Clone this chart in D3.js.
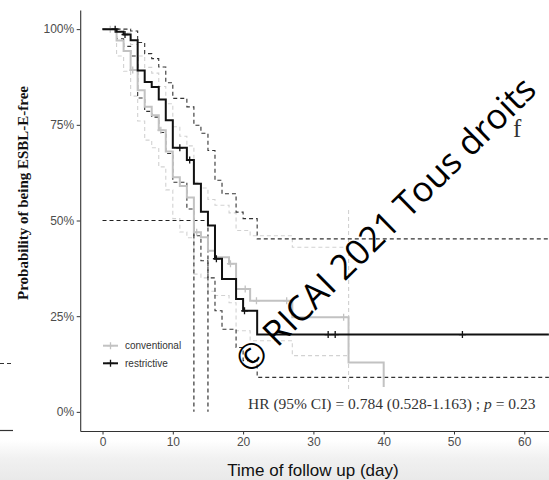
<!DOCTYPE html>
<html><head><meta charset="utf-8">
<script src="https://cdn.jsdelivr.net/npm/d3@7"></script>
<style>body{margin:0;background:#fff} svg{display:block}</style>
</head><body>
<svg id="c" width="549" height="480"></svg>
<script>
// ---- data ----
const groups = ["conventional", "restrictive"];
const convTimes = [0,2,3,4,5,6,7,8,9,10,11,12,13,14,15,16,18,19,21,27,35,40];
const convSurv  = [100,97,94.3,89.3,84,79.7,77.5,73.6,68,61.3,59,56,46.9,45.6,42.1,40.4,38.7,32.1,29,24.7,12.9,6.5];
const convUpperTimes = [0,2,3,4,5,6,7,8,9,10,11,12,13,14,15,16,18,19,21,27,35];
const convUpper = [100,100,99,96,93,90,88.5,85,80.5,74.5,72,69.5,60,58.5,55.5,54,52,47.4,46,43,5.5];
const convLower = [100,93,89,82.5,76,71,69,64,58,50.5,47,45.5,36,35,31.5,30.4,28.5,21.2,18.6,14.7,53.5];
const convCensor = [1.1,4.3,8.3,13.4,18.2,20.3,21.9,26.2,34.3];
const convEnd = 40;

const restTimes = [0,2,3,4,5,6,7,8,9,10,12,13,14,15,16,17,19,20,22];
const restSurv  = [100,99.3,98.6,97.1,89.2,86.2,84.9,81.6,76.2,69.0,65.8,59.6,52.3,48.7,40.0,34.7,29.5,26.4,20.2];
const restUpper = [100,100,100,99.5,96.5,93.6,92.3,90.1,86,81.9,79.7,74.9,72.8,68.3,60.5,57,52.2,50.5,45.2];
const restLower = [100,97.5,95.5,93,82,78.5,77,73,67.5,60,53,46,39.5,35,26.4,21.6,16.8,13.4,9];
const restCensor = [1.8,3.2,11,12.4,16.2,20.2,32.1,33.1,51.2];
const restEnd = 63.5;

const medians = [13, 15];
const yTicks = [0,25,50,75,100];
const xTicks = [0,10,20,30,40,50,60];
const hrText = "HR (95% CI) = 0.784 (0.528-1.163) ; ";

// ---- scales ----
const svg = d3.select('#c');
const x = d3.scaleLinear().domain([-3.175, 66.675]).range([80.2, 571.2]);
const y = d3.scaleLinear().domain([-5, 105]).range([431, 10]);

// bottom grey band
const defs = svg.append('defs');
const g1 = defs.append('linearGradient').attr('id','band').attr('x1',0).attr('y1',0).attr('x2',0).attr('y2',1);
g1.append('stop').attr('offset','0%').attr('stop-color','#ffffff');
g1.append('stop').attr('offset','45%').attr('stop-color','#f1f1f1');
g1.append('stop').attr('offset','100%').attr('stop-color','#e9e9e9');
svg.append('rect').attr('x',0).attr('y',440).attr('width',549).attr('height',40).attr('fill','url(#band)');

// fragments of previous panel at left edge
svg.append('line').attr('x1',0).attr('x2',12).attr('y1',363.5).attr('y2',363.5)
  .attr('stroke','#333').attr('stroke-width',1).attr('stroke-dasharray','4,3');
svg.append('line').attr('x1',0).attr('x2',13).attr('y1',430.5).attr('y2',430.5)
  .attr('stroke','#333').attr('stroke-width',1.2);

const stepLine = d3.line().x(d=>x(d[0])).y(d=>y(d[1])).curve(d3.curveStepAfter);
function pts(times, vals, end){
  const p = times.map((t,i)=>[t, vals[i]]);
  if (end !== undefined) p.push([end, vals[vals.length-1]]);
  return p;
}

// CI lines
const ciLayer = svg.append('g');
ciLayer.append('path').attr('d', stepLine(pts(convUpperTimes, convUpper)))
  .attr('fill','none').attr('stroke','#d2d2d2').attr('stroke-width',1.1).attr('stroke-dasharray','4,3');
ciLayer.append('path').attr('d', stepLine(pts(convUpperTimes, convLower)))
  .attr('fill','none').attr('stroke','#d2d2d2').attr('stroke-width',1.1).attr('stroke-dasharray','4,3');
ciLayer.append('path').attr('d', stepLine(pts(restTimes, restUpper, restEnd)))
  .attr('fill','none').attr('stroke','#333').attr('stroke-width',1.1).attr('stroke-dasharray','4,3');
ciLayer.append('path').attr('d', stepLine(pts(restTimes, restLower, restEnd)))
  .attr('fill','none').attr('stroke','#333').attr('stroke-width',1.1).attr('stroke-dasharray','4,3');

// median lines
const medLayer = svg.append('g').attr('stroke','#222').attr('stroke-width',1.1).attr('stroke-dasharray','4,3').attr('fill','none');
medLayer.append('line').attr('x1',x(0)).attr('x2',x(d3.max(medians))).attr('y1',y(50)).attr('y2',y(50));
medians.forEach(m=>{
  medLayer.append('line').attr('x1',x(m)).attr('x2',x(m)).attr('y1',y(50)).attr('y2',y(0));
});

// survival curves
function drawCurve(times, surv, end, censor, color){
  svg.append('path').attr('d', stepLine(pts(times, surv, end)))
    .attr('fill','none').attr('stroke',color).attr('stroke-width',2);
  const val = t => { let v = surv[0]; times.forEach((tt,i)=>{ if (tt<=t) v = surv[i]; }); return v; };
  svg.append('g').selectAll('path').data(censor).join('path')
    .attr('d', d=>{ const cx=x(d), cy=y(val(d)); return `M${cx-3.5},${cy}H${cx+3.5}M${cx},${cy-3.5}V${cy+3.5}`; })
    .attr('stroke',color).attr('stroke-width',1.3).attr('fill','none');
}
drawCurve(convTimes, convSurv, convEnd, convCensor, '#c2c2c2');
drawCurve(restTimes, restSurv, restEnd, restCensor, '#111');

// axes
const yAxis = svg.append('g').attr('transform',`translate(${x.range()[0]},0)`)
  .call(d3.axisLeft(y).tickValues(yTicks).tickFormat(d=>d+'%').tickSize(3.5).tickSizeOuter(0).tickPadding(2.5));
const xAxis = svg.append('g').attr('transform',`translate(0,${y.range()[0]})`)
  .call(d3.axisBottom(x).tickValues(xTicks).tickSize(3.5).tickSizeOuter(0).tickPadding(3));
[yAxis, xAxis].forEach(a=>{
  a.select('.domain').attr('stroke','#333').attr('stroke-width',1.1);
  a.selectAll('.tick line').attr('stroke','#333');
  a.selectAll('text').attr('fill','#4d4d4d').attr('font-size','12px').attr('font-family','"Liberation Sans", Arial, sans-serif');
});

// titles
svg.append('text').attr('x',313).attr('y',476).attr('text-anchor','middle')
  .attr('font-family','"Liberation Sans", Arial, sans-serif').attr('font-size','17px').attr('fill','#111')
  .text('Time of follow up (day)');
svg.append('text').attr('transform','translate(28,193) rotate(-90)').attr('text-anchor','middle')
  .attr('font-family','"Liberation Serif", "Times New Roman", serif').attr('font-weight','bold')
  .attr('font-size','15px').attr('fill','#111')
  .text('Probability of being ESBL-E-free');

// legend
const legColors = ['#c2c2c2','#111'];
const leg = svg.append('g');
groups.forEach((gname,i)=>{
  const ly = 345.7 + i*17.6;
  leg.append('line').attr('x1',103).attr('x2',118).attr('y1',ly).attr('y2',ly)
    .attr('stroke',legColors[i]).attr('stroke-width',2);
  leg.append('path').attr('d',`M107,${ly}H114M110.5,${ly-3.5}V${ly+3.5}`)
    .attr('stroke',legColors[i]).attr('stroke-width',1.3);
  leg.append('text').attr('x',125).attr('y',ly+3.5)
    .attr('font-family','"Liberation Sans", Arial, sans-serif').attr('font-size','10px').attr('fill','#333')
    .text(gname);
});

// HR annotation
const hr = svg.append('text').attr('x',248).attr('y',409)
  .attr('font-family','"Liberation Serif", "Times New Roman", serif').attr('font-size','15.5px').attr('fill','#333');
hr.append('tspan').text(hrText);
hr.append('tspan').attr('font-style','italic').text('p');
hr.append('tspan').text(' = 0.23');

// panel letter
svg.append('text').attr('x',513).attr('y',137)
  .attr('font-family','"Liberation Serif", "Times New Roman", serif').attr('font-size','25px').attr('fill','#333')
  .text('f');

// watermark
svg.append('text').attr('transform','translate(250,375) rotate(-44.5)')
  .attr('font-family','"Open Sans", sans-serif').attr('font-size','35px').attr('fill','#000')
  .text('© RICAI 2021 Tous droits');
</script>
</body></html>
